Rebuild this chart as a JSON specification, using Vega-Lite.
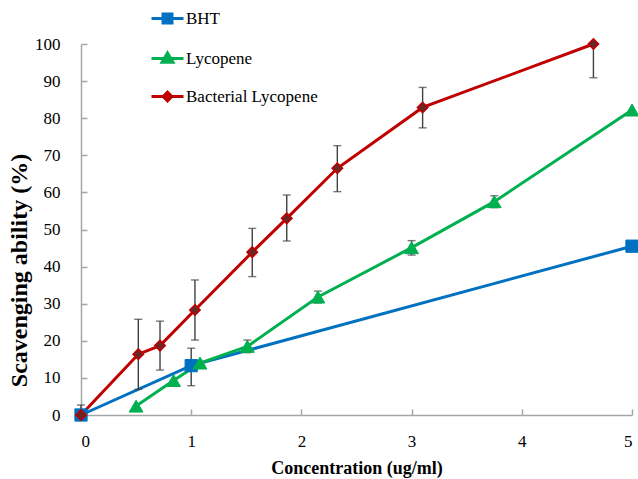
{
  "$schema": "https://vega.github.io/schema/vega-lite/v6.json",
  "width": 551,
  "height": 371,
  "autosize": "none",
  "padding": {"left": 81, "top": 44, "right": 6, "bottom": 64},
  "background": "white",
  "config": {
    "view": {"stroke": null},
    "font": "Liberation Serif",
    "axisQuantitative": {"labelFont": "Liberation Serif", "titleFont": "Liberation Serif"},
    "style": {"guide-label": {"font": "Liberation Serif", "fill": "black"}, "guide-title": {"font": "Liberation Serif", "fill": "black"}}
  },
  "datasets": {
    "pts": [
      {"series": "BHT", "x": 0, "y": 0},
      {"series": "BHT", "x": 1, "y": 13.3, "lo": 7.9, "hi": 18.0},
      {"series": "BHT", "x": 5, "y": 45.5},
      {"series": "Lycopene", "x": 0.5, "y": 2.4},
      {"series": "Lycopene", "x": 0.84, "y": 9.3},
      {"series": "Lycopene", "x": 1.08, "y": 14.0},
      {"series": "Lycopene", "x": 1.51, "y": 18.5, "lo": 16.8, "hi": 20.2},
      {"series": "Lycopene", "x": 2.15, "y": 31.8, "lo": 30.2, "hi": 33.4},
      {"series": "Lycopene", "x": 3.0, "y": 45.1, "lo": 43.1, "hi": 47.0},
      {"series": "Lycopene", "x": 3.75, "y": 57.5, "lo": 55.9, "hi": 59.1},
      {"series": "Lycopene", "x": 5.0, "y": 82.2},
      {"series": "Bacterial Lycopene", "x": 0, "y": 0, "lo": 0, "hi": 2.7},
      {"series": "Bacterial Lycopene", "x": 0.52, "y": 16.4, "lo": 6.9, "hi": 25.8},
      {"series": "Bacterial Lycopene", "x": 0.717, "y": 18.7, "lo": 12.1, "hi": 25.3},
      {"series": "Bacterial Lycopene", "x": 1.034, "y": 28.3, "lo": 20.2, "hi": 36.4},
      {"series": "Bacterial Lycopene", "x": 1.554, "y": 43.9, "lo": 37.3, "hi": 50.3},
      {"series": "Bacterial Lycopene", "x": 1.867, "y": 53.0, "lo": 46.9, "hi": 59.3},
      {"series": "Bacterial Lycopene", "x": 2.326, "y": 66.5, "lo": 60.2, "hi": 72.6},
      {"series": "Bacterial Lycopene", "x": 3.10, "y": 82.9, "lo": 77.4, "hi": 88.3},
      {"series": "Bacterial Lycopene", "x": 4.65, "y": 100, "lo": 90.9, "hi": 100}
    ]
  },
  "data": {"name": "pts"},
  "encoding": {
    "x": {
      "field": "x", "type": "quantitative",
      "scale": {"domain": [0, 5], "nice": false},
      "axis": {
        "values": [0, 1, 2, 3, 4, 5], "grid": false,
        "domainColor": "#a6a6a6", "domainWidth": 1.5,
        "tickColor": "#a6a6a6", "tickWidth": 1.5, "tickSize": -6,
        "labelPadding": 24,
        "labelFont": "Liberation Serif", "labelFontSize": 17, "labelColor": "black",
        "title": "Concentration (ug/ml)",
        "titleFont": "Liberation Serif", "titleFontSize": 18, "titleFontWeight": "bold", "titleColor": "black",
        "titlePadding": 10
      }
    },
    "y": {
      "field": "y", "type": "quantitative",
      "scale": {"domain": [0, 100], "nice": false},
      "axis": {
        "values": [0, 10, 20, 30, 40, 50, 60, 70, 80, 90, 100], "grid": false,
        "domainColor": "#a6a6a6", "domainWidth": 1.5,
        "tickColor": "#a6a6a6", "tickWidth": 1.5, "tickSize": -6,
        "labelPadding": 27,
        "labelFont": "Liberation Serif", "labelFontSize": 17, "labelColor": "black",
        "title": "Scavenging ability (%)",
        "titleFont": "Liberation Serif", "titleFontSize": 24, "titleFontWeight": "bold", "titleColor": "black",
        "titleX": -55, "titleY": 226, "titleBaseline": "alphabetic", "titleAngle": -90, "titleAlign": "center"
      }
    }
  },
  "resolve": {"scale": {"shape": "independent"}, "legend": {"shape": "independent"}},
  "layer": [
    {
      "mark": {"type": "line", "strokeWidth": 3},
      "encoding": {
        "color": {
          "field": "series", "type": "nominal",
          "scale": {"domain": ["BHT", "Lycopene", "Bacterial Lycopene"], "range": ["#0070C0", "#00B050", "#C00000"]},
          "legend": null
        }
      }
    },
    {
      "transform": [{"filter": "isValid(datum.lo)"}],
      "mark": {"type": "rule", "color": "#404040", "strokeWidth": 1.4},
      "encoding": {"y": {"field": "lo", "type": "quantitative"}, "y2": {"field": "hi"}}
    },
    {
      "transform": [{"filter": "isValid(datum.lo)"}],
      "mark": {"type": "tick", "color": "#404040", "thickness": 1.4, "size": 8, "orient": "horizontal"},
      "encoding": {"y": {"field": "lo", "type": "quantitative"}}
    },
    {
      "transform": [{"filter": "isValid(datum.lo)"}],
      "mark": {"type": "tick", "color": "#404040", "thickness": 1.4, "size": 8, "orient": "horizontal"},
      "encoding": {"y": {"field": "hi", "type": "quantitative"}}
    },
    {
      "transform": [{"filter": "datum.series === 'BHT'"}],
      "mark": {"type": "point", "filled": true, "opacity": 1, "shape": "square", "size": 150, "fill": "#0070C0", "stroke": "#0070C0", "strokeWidth": 1}
    },
    {
      "transform": [{"filter": "datum.series === 'Lycopene'"}],
      "mark": {"type": "point", "filled": true, "opacity": 1, "shape": "triangle-up", "size": 190, "fill": "#00B050", "stroke": "#00B050", "strokeWidth": 1}
    },
    {
      "transform": [{"filter": "datum.series === 'Bacterial Lycopene'"}],
      "mark": {"type": "point", "filled": true, "opacity": 1, "shape": "diamond", "size": 110, "fill": "#6B2626", "stroke": "#C00000", "strokeWidth": 1.5}
    },
    {
      "transform": [{"filter": "datum.series === 'BHT'"}],
      "mark": {"type": "point", "filled": false, "opacity": 0, "strokeWidth": 3, "color": "#0070C0"},
      "encoding": {
        "shape": {
          "field": "series", "type": "nominal",
          "scale": {"domain": ["BHT"], "range": ["M-1,0L1,0M-0.28,-0.28L0.28,-0.28L0.28,0.28L-0.28,0.28ZM-0.1,-0.1L0.1,-0.1L0.1,0.1L-0.1,0.1Z"]},
          "legend": {
            "orient": "none", "legendX": 69, "legendY": -43, "title": null,
            "symbolSize": 1024, "labelOffset": 1,
            "symbolOpacity": 1, "symbolStrokeWidth": 3, "symbolStrokeColor": "#0070C0",
            "labelFont": "Liberation Serif", "labelFontSize": 17, "labelColor": "black"
          }
        }
      }
    },
    {
      "transform": [{"filter": "datum.series === 'Lycopene'"}],
      "mark": {"type": "point", "filled": false, "opacity": 0, "strokeWidth": 3, "color": "#00B050"},
      "encoding": {
        "shape": {
          "field": "series", "type": "nominal",
          "scale": {"domain": ["Lycopene"], "range": ["M-1,0L1,0M0,-0.34L0.34,0.24L-0.34,0.24ZM0,-0.1L0.12,0.12L-0.12,0.12Z"]},
          "legend": {
            "orient": "none", "legendX": 69, "legendY": -3, "title": null,
            "symbolSize": 1024, "labelOffset": 1,
            "symbolOpacity": 1, "symbolStrokeWidth": 3, "symbolStrokeColor": "#00B050",
            "labelFont": "Liberation Serif", "labelFontSize": 17, "labelColor": "black"
          }
        }
      }
    },
    {
      "transform": [{"filter": "datum.series === 'Bacterial Lycopene'"}],
      "mark": {"type": "point", "filled": false, "opacity": 0, "strokeWidth": 3, "color": "#C00000"},
      "encoding": {
        "shape": {
          "field": "series", "type": "nominal",
          "scale": {"domain": ["Bacterial Lycopene"], "range": ["M-1,0L1,0M-0.27,0L0,-0.27L0.27,0L0,0.27ZM-0.09,0L0,-0.09L0.09,0L0,0.09Z"]},
          "legend": {
            "orient": "none", "legendX": 69, "legendY": 35, "title": null,
            "symbolSize": 1024, "labelOffset": 1,
            "symbolOpacity": 1, "symbolStrokeWidth": 3, "symbolStrokeColor": "#C00000",
            "labelFont": "Liberation Serif", "labelFontSize": 17, "labelColor": "black"
          }
        }
      }
    }
  ]
}
